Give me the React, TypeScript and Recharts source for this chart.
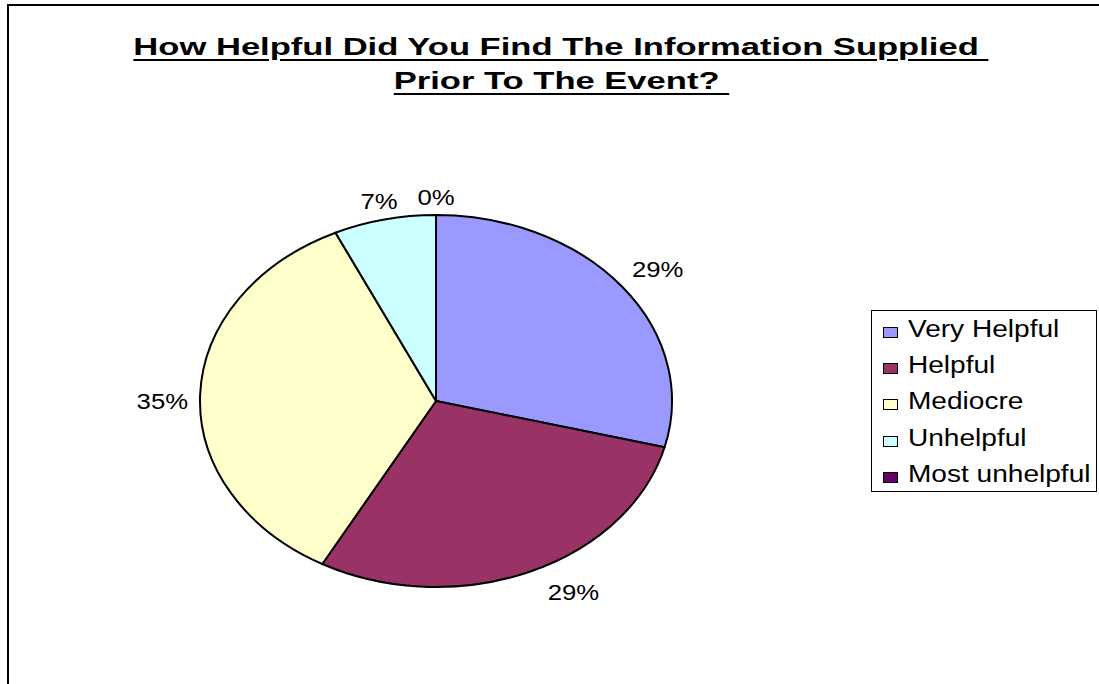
import React from 'react';
import { PieChart, Pie, Cell, Legend } from 'recharts';

const categories = ['Very Helpful', 'Helpful', 'Mediocre', 'Unhelpful', 'Most unhelpful'];
const values = [29, 29, 35, 7, 0];
const colors = ['#9999FF', '#993366', '#FFFFCC', '#CCFFFF', '#660066'];
const titleLines = ['How Helpful Did You Find The Information Supplied\u00a0', 'Prior To The Event?\u00a0'];

const data = categories.map((name, i) => ({ name, value: values[i] }));

const RX = 236;
const RY = 186;
const RAD = Math.PI / 180;

const ellipsePoint = (cx: number, cy: number, angle: number) => ({
  x: cx + RX * Math.cos(-angle * RAD),
  y: cy + RY * Math.sin(-angle * RAD),
});

const EllipseSector = (props: any) => {
  const { cx, cy, startAngle, endAngle, fill } = props;
  if (Math.abs(endAngle - startAngle) < 1e-6) {
    const p = ellipsePoint(cx, cy, startAngle);
    return <path d={`M${cx},${cy}L${p.x},${p.y}`} stroke="#000" strokeWidth={2} fill="none" />;
  }
  const p1 = ellipsePoint(cx, cy, startAngle);
  const p2 = ellipsePoint(cx, cy, endAngle);
  const large = Math.abs(endAngle - startAngle) > 180 ? 1 : 0;
  const sweep = startAngle > endAngle ? 1 : 0;
  const d = `M${cx},${cy}L${p1.x},${p1.y}A${RX},${RY} 0 ${large} ${sweep} ${p2.x},${p2.y}Z`;
  return <path d={d} fill={fill} stroke="#000" strokeWidth={2} strokeLinejoin="round" />;
};

const renderLabel = (props: any) => {
  const { cx, cy, midAngle, percent } = props;
  const c = Math.cos(-midAngle * RAD);
  const s = Math.sin(-midAngle * RAD);
  const p = ellipsePoint(cx, cy, midAngle);
  let anchor: 'start' | 'end' | 'middle' = 'middle';
  let x = p.x;
  let y = p.y;
  if (s < -0.3) {
    y = p.y - 10;
    if (c > 0.3) {
      anchor = 'start';
      x = p.x + 12 * c;
    } else {
      anchor = 'middle';
      x = p.x + 25 * c;
    }
  } else if (s > 0.3) {
    y = p.y + 28;
    if (c > 0.15) {
      anchor = 'start';
      x = p.x + 18;
    } else if (c < -0.15) {
      anchor = 'end';
      x = p.x - 18;
    } else {
      anchor = 'middle';
    }
  } else {
    y = p.y + 14;
    if (c < 0) {
      anchor = 'end';
      x = p.x - 12;
    } else {
      anchor = 'start';
      x = p.x + 12;
    }
  }
  const txt = `${Math.round(percent * 100)}%`;
  return (
    <text
      x={0}
      y={0}
      transform={`translate(${x},${y}) scale(1.17,1)`}
      textAnchor={anchor}
      fontFamily="'Liberation Sans', Arial, sans-serif"
      fontSize={22}
      fill="#000"
    >
      {txt}
    </text>
  );
};

const renderLegend = (props: any) => {
  const payload = [...(props.payload || [])].sort(
    (a: any, b: any) => categories.indexOf(a.value) - categories.indexOf(b.value)
  );
  return (
    <div
      style={{
        border: '1px solid #000',
        background: '#fff',
        boxSizing: 'border-box',
        width: 226,
        height: 182,
        padding: '0 0 0 11px',
        fontFamily: "'Liberation Sans', Arial, sans-serif",
      }}
    >
      {payload.map((entry: any, i: number) => (
        <div key={i} style={{ height: 36.4, display: 'flex', alignItems: 'center', whiteSpace: 'nowrap' }}>
          <span
            style={{
              display: 'inline-block',
              width: 13,
              height: 9,
              background: entry.color,
              border: '1px solid #000',
              marginRight: 10,
              marginTop: 6,
            }}
          />
          <span
            style={{
              display: 'inline-block',
              fontSize: 23,
              color: '#000',
              transform: 'scaleX(1.22)',
              transformOrigin: 'left center',
            }}
          >
            {entry.value}
          </span>
        </div>
      ))}
    </div>
  );
};

export default function App() {
  return (
    <div style={{ position: 'absolute', left: 0, top: 0, width: 1099, height: 684, background: '#fff', overflow: 'hidden' }}>
      <div
        style={{
          position: 'absolute',
          left: 7,
          top: 4,
          width: 1100,
          height: 700,
          borderLeft: '2px solid #000',
          borderTop: '2px solid #000',
        }}
      />
      <div
        style={{
          position: 'absolute',
          left: 0,
          top: 30,
          width: 1122,
          textAlign: 'center',
          fontFamily: "'Liberation Sans', Arial, sans-serif",
          fontWeight: 'bold',
          fontSize: 24,
          lineHeight: '34px',
          color: '#000',
        }}
      >
        {titleLines.map((t, i) => (
          <div key={i}>
            <span
              style={{
                display: 'inline-block',
                transform: 'scaleX(1.44)',
                textDecoration: 'underline',
                textDecorationThickness: 2,
                textUnderlineOffset: 4,
              }}
            >
              {t}
            </span>
          </div>
        ))}
      </div>
      <PieChart
        width={1099}
        height={684}
        margin={{ top: 0, right: 0, bottom: 0, left: 0 }}
        style={{ position: 'absolute', left: 0, top: 0 }}
      >
        <Pie
          data={data}
          dataKey="value"
          nameKey="name"
          cx={436}
          cy={401}
          outerRadius={RX}
          startAngle={90}
          endAngle={-270}
          isAnimationActive={false}
          shape={EllipseSector}
          label={renderLabel}
          labelLine={false}
        >
          {data.map((d, i) => (
            <Cell key={d.name} fill={colors[i]} />
          ))}
        </Pie>
        <Legend
          layout="vertical"
          content={renderLegend}
          wrapperStyle={{ position: 'absolute', left: 871, top: 310, width: 226, height: 182 }}
        />
      </PieChart>
    </div>
  );
}
